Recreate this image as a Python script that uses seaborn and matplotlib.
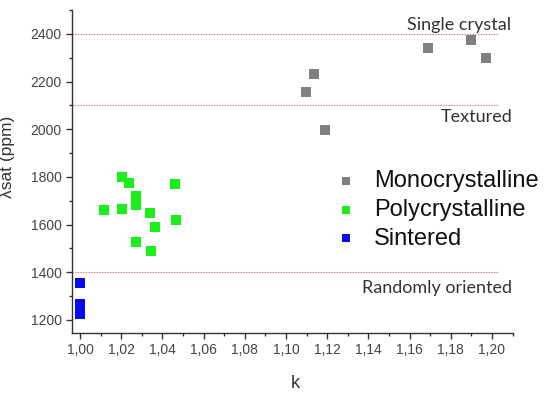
import matplotlib
matplotlib.use("Agg")
import matplotlib.pyplot as plt
import seaborn as sns
import pandas as pd
from matplotlib.ticker import MultipleLocator, FuncFormatter

# Data
mono_k = [1.1097, 1.1136, 1.1189, 1.1689, 1.1898, 1.1971]
mono_l = [2157, 2232, 1997, 2341, 2375, 2299]

poly_k = [1.0117, 1.0202, 1.0202, 1.0238, 1.0270, 1.0270, 1.0270, 1.0272,
          1.0340, 1.0343, 1.0364, 1.0461, 1.0466]
poly_l = [1662, 1799, 1665, 1774, 1720, 1700, 1682, 1525,
          1648, 1491, 1589, 1771, 1617]

sint_k = [1.0, 1.0, 1.0, 1.0, 1.0]
sint_l = [1356, 1265, 1250, 1236, 1225]

series_names = ["Monocrystalline", "Polycrystalline", "Sintered"]
series_colors = ["#808080", "#19f019", "#0a0af0"]

ref_levels = [2400, 2100, 1400]
ref_labels = ["Single crystal", "Textured", "Randomly oriented"]

sns.set_style("ticks")
plt.rcParams['font.family'] = ['Liberation Sans', 'DejaVu Sans']

fig = plt.figure(figsize=(5.5, 3.95), dpi=100)
ax = fig.add_axes([72/550, 1-333/395, (513-72)/550, (333-10)/395])

df = pd.concat([
    pd.DataFrame({"k": mono_k, "l": mono_l, "g": series_names[0]}),
    pd.DataFrame({"k": poly_k, "l": poly_l, "g": series_names[1]}),
    pd.DataFrame({"k": sint_k, "l": sint_l, "g": series_names[2]}),
])
for name, col in zip(series_names, series_colors):
    sub = df[df["g"] == name]
    sns.scatterplot(data=sub, x="k", y="l", ax=ax, color=col, marker="s",
                    s=55, linewidth=0, label=name, zorder=3)

xmin, xmax = 0.9961, 1.2102
ax.set_xlim(xmin, xmax)
ax.set_ylim(1145, 2500)

line_end = 1.2029
for lv in ref_levels:
    ax.hlines(lv, xmin, line_end, colors="#d9707a", linestyles=(0, (1.2, 1.2)),
              linewidth=0.8, zorder=1)

txt_kw = dict(family=["Lato", "DejaVu Sans"], fontsize=13, color="#333333",
              ha="right", va="center")
ax.text(1.2095, 2435, ref_labels[0], **txt_kw)
ax.text(1.2100, 2050, ref_labels[1], **txt_kw)
ax.text(1.2098, 1335, ref_labels[2], **txt_kw)

sns.despine(ax=ax)
ax.xaxis.set_major_locator(MultipleLocator(0.02))
ax.xaxis.set_minor_locator(MultipleLocator(0.01))
ax.yaxis.set_major_locator(MultipleLocator(200))
ax.yaxis.set_minor_locator(MultipleLocator(100))
ax.xaxis.set_major_formatter(FuncFormatter(lambda v, p: f"{v:.2f}".replace(".", ",")))
ax.yaxis.set_major_formatter(FuncFormatter(lambda v, p: f"{v:.0f}"))
for sp in ["left", "bottom"]:
    ax.spines[sp].set_color("#333333")
    ax.spines[sp].set_linewidth(1.0)
ax.tick_params(which="major", direction="out", length=4, width=1.0,
               color="#333333", labelsize=10, labelcolor="#444444")
ax.tick_params(which="minor", direction="out", length=2.5, width=1.0, color="#333333")

ax.set_xlabel("k", fontsize=13, color="#333333")
ax.set_ylabel("λsat (ppm)", fontsize=12.5, color="#333333")
ax.xaxis.set_label_coords(0.506, -0.130)
ax.yaxis.set_label_coords(-0.129, 0.545)

leg = ax.legend(loc="upper left", bbox_to_anchor=(313/550, 1-161/395),
                bbox_transform=fig.transFigure, frameon=False, fontsize=17,
                handletextpad=0.2, labelspacing=0.28, borderaxespad=0,
                markerscale=0.75)
for t in leg.get_texts():
    t.set_color("#111111")

fig.savefig("out.png", dpi=100)
